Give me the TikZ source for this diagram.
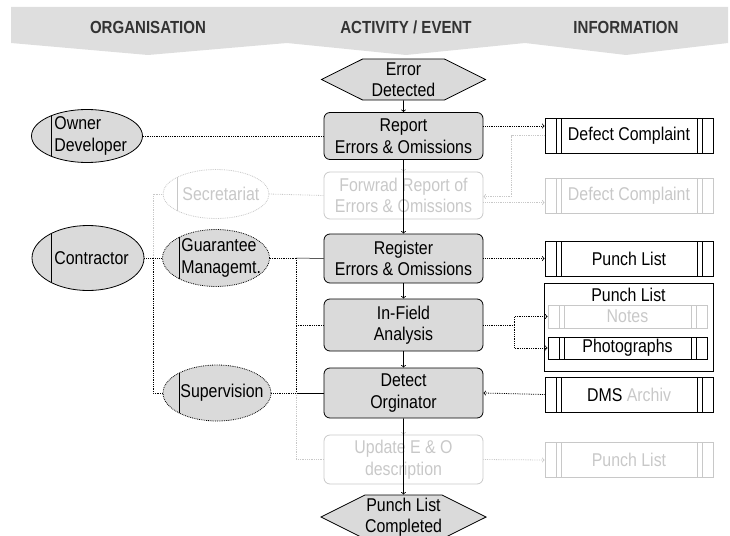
\documentclass[tikz,border=0pt]{standalone}
\usepackage{fontspec}
\setmainfont{Liberation Sans}[FakeStretch=0.86]
\usetikzlibrary{positioning, shapes.geometric, shapes.symbols}

\definecolor{boxgrey}{RGB}{218,218,218}
\definecolor{bandgrey}{RGB}{222,222,222}
\definecolor{fadegrey}{RGB}{200,200,200}
\definecolor{headtext}{RGB}{51,51,51}

\begin{document}
\begin{tikzpicture}[x=1pt, y=-1pt, line width=0.8pt,
    font=\fontsize{18.5}{21.5}\selectfont,
    head/.style={font=\fontsize{17.5}{20}\selectfont\bfseries, text=headtext},
    event/.style={signal, signal to=west and east, signal pointer angle=53, draw, fill=boxgrey,
        minimum width=164pt, minimum height=41pt, inner sep=0pt, align=center},
    act/.style={rectangle, rounded corners=6pt, draw, fill=boxgrey, minimum width=159pt,
        minimum height=47pt, inner sep=0pt, align=center},
    faded/.style={draw=fadegrey, fill=none, text=fadegrey},
    org/.style={ellipse, draw, fill=boxgrey, inner sep=0pt},
    orgline/.style 2 args={path picture={\draw[#2, solid, line width=0.9pt]
        ([xshift=#1]path picture bounding box.south west) -- ([xshift=#1]path picture bounding box.north west);}},
    orgtext/.style={anchor=west, align=left, inner sep=0pt},
    info/.style={rectangle, draw, minimum width=168pt, minimum height=35pt, inner sep=0pt},
    dbl/.style={path picture={
        \foreach \dx in {11,16} {
            \draw[#1, line width=0.6pt] ([xshift=\dx pt]path picture bounding box.south west) -- ([xshift=\dx pt]path picture bounding box.north west);
            \draw[#1, line width=0.6pt] ([xshift=-\dx pt]path picture bounding box.south east) -- ([xshift=-\dx pt]path picture bounding box.north east);
        }}},
    link/.style={densely dotted},
    fadedlink/.style={densely dotted, draw=fadegrey},
    arrow/.style={->}
]
\useasboundingbox (0,0) rectangle (730,535);

% Header band
\fill[bandgrey] (11,7) -- (728,7) -- (728,43) -- (626,55) -- (525,43) -- (406,55)
    -- (287,43) -- (148,55) -- (11,43) -- cycle;
\node[head] (hdrorg) at (148,27) {ORGANISATION};
\node[head] (hdract) at (406,27) {ACTIVITY / EVENT};
\node[head] (hdrinfo) at (626,27) {INFORMATION};

% Organisation
\node[org, minimum width=111pt, minimum height=53pt, orgline={20pt}{black}] (owner) at (87,136) {};
\node[orgtext] (ownertxt) at (54,136) {Owner\\Developer};
\node[org, densely dotted, draw=fadegrey, fill=white, minimum width=106pt, minimum height=49pt,
    orgline={14pt}{fadegrey}] (secr) at (216,194) {};
\node[orgtext, text=fadegrey] (secrtxt) at (182,194) {Secretariat};
\node[org, minimum width=112pt, minimum height=65pt, orgline={19pt}{black}] (contr) at (88,258) {};
\node[orgtext] (contrtxt) at (54,258) {Contractor};
\node[org, densely dotted, minimum width=107pt, minimum height=57pt, orgline={17pt}{black}] (guar) at (216,258) {};
\node[orgtext] (guartxt) at (181,258) {Guarantee\\Managemt.};
\node[org, densely dotted, minimum width=108pt, minimum height=56pt, orgline={16pt}{black}] (superv) at (217,393) {};
\node[orgtext] (supervtxt) at (180,393) {Supervision};

% Activities
\node[event] (start) at (403.5,79.5) {Error\\Detected};
\node[act] (report) at (403.5,136) {Report\\Errors \& Omissions};
\node[act, faded] (fwd) at (403.5,195.5) {Forwrad Report of\\Errors \& Omissions};
\node[act, minimum height=49pt] (register) at (403.5,258.5) {Register\\Errors \& Omissions};
\node[act, minimum height=52pt] (analysis) at (403.5,325) {In-Field\\Analysis};
\node[act, minimum height=50pt] (detect) at (403.5,393) {Detect\\Orginator};
\node[act, faded, minimum height=49pt] (update) at (403.5,459.5) {Update E \& O\\description};
\node[event, minimum width=165pt, minimum height=44pt] (done) at (403.5,517) {Punch List\\Completed};

% Information
\node[info, dbl=black] (complaint) at (629,135.5) {Defect Complaint};
\node[info, dbl=fadegrey, draw=fadegrey, text=fadegrey] (complaintfwd) at (629,195.5) {Defect Complaint};
\node[info, dbl=black] (punch) at (629,258.5) {Punch List};
\node[draw, minimum width=169pt, minimum height=88pt] (punchbox) at (628.5,327) {};
\node (punchttl) at (628.5,295) {Punch List};
\node[info, dbl=fadegrey, draw=fadegrey, text=fadegrey, minimum width=159pt, minimum height=23pt] (notes) at (627.5,316.5) {Notes};
\node[info, dbl=black, minimum width=159pt, minimum height=22pt] (photos) at (627.5,348) {Photographs};
\node[info, dbl=black] (dms) at (629,394.5) {DMS \textcolor{fadegrey}{Archiv}};
\node[info, dbl=fadegrey, draw=fadegrey, text=fadegrey] (punchupd) at (629,460) {Punch List};

% Main flow
\draw[arrow] (start) -- (report);
\draw[arrow, draw=fadegrey] (report) -- (fwd);
\draw[arrow] (report) -- (register);
\draw[arrow] (register) -- (analysis);
\draw[arrow] (analysis) -- (detect);
\draw[arrow, draw=fadegrey] (detect) -- (update);
\draw[arrow] (detect) -- (done);

% Organisation links
\coordinate (cj) at (153,258);
\coordinate (gj) at (296,258);
\coordinate (sj) at (296,393);
\draw[link] (owner.east) -- (report.west);
\draw[fadedlink] (secr.east) -- (fwd.west);
\draw[link] (contr.east) -- (guar.west);
\draw[fadedlink] (cj) |- (secr.west);
\draw[link] (cj) |- (superv.west);
\draw[link] (guar.east) -- (gj);
\draw[line width=0.5pt] (gj) -- (register.west);
\draw[link] (gj) -- (sj);
\draw[link] (gj |- analysis.west) -- (analysis.west);
\draw[link] (superv.east) -- (sj);
\draw[line width=0.5pt] (sj) -- (detect.west);
\draw[fadedlink] (sj) |- (update.west);

% Information links
\draw[link, arrow] ([yshift=10pt]report.east) -- ([yshift=10pt]report.east -| complaint.west);
\draw[fadedlink, arrow] (complaint.west) -- ++(-33,0) |- ([yshift=-1pt]fwd.east);
\draw[fadedlink, arrow] ([yshift=-7pt]fwd.east) -- ([yshift=-7pt]fwd.east -| complaintfwd.west);
\draw[link, arrow] (register.east) -- (punch.west);
\draw[link] (analysis.east) -- ++(31,0) coordinate (aj);
\draw[link, arrow] (aj) |- (notes.west);
\draw[link, arrow] (aj) |- (photos.west);
\draw[link, arrow] (dms.west) -- (detect.east);
\draw[fadedlink, arrow] (update.east) -- (punchupd.west);

\end{tikzpicture}
\end{document}
